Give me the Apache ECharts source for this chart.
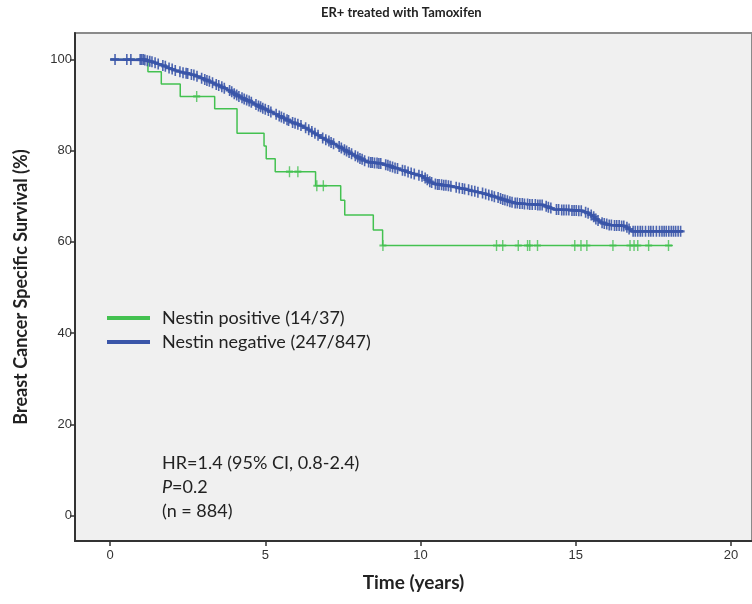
<!DOCTYPE html>
<html>
<head>
<meta charset="utf-8">
<script src="https://cdn.jsdelivr.net/npm/echarts@6/dist/echarts.min.js"></script>
<style>
  html, body { margin: 0; padding: 0; background: #fff; }
  #chart { width: 752px; height: 604px; }
</style>
</head>
<body>
<div id="chart"></div>
<script>
// Nestin positive: step times / survival (%)
var posTime = [0, 1.22, 1.65, 2.26, 3.37, 4.09, 4.96, 5.03, 5.32, 6.62, 7.43, 7.56, 8.48, 8.78, 18.13];
var posSurv = [100, 97.3, 94.6, 91.9, 89.2, 83.8, 81.0, 78.2, 75.4, 72.3, 69.1, 65.9, 62.6, 59.2, 59.2];
// censored cases (positive)
var posCensTime = [2.79, 5.78, 6.05, 6.66, 6.87, 8.79, 12.45, 12.65, 13.15, 13.45, 13.52, 13.77, 14.97, 15.17, 15.36, 16.2, 16.75, 16.88, 17.0, 17.35, 17.99];
var posCensSurv = [91.9, 75.4, 75.4, 72.3, 72.3, 59.2, 59.2, 59.2, 59.2, 59.2, 59.2, 59.2, 59.2, 59.2, 59.2, 59.2, 59.2, 59.2, 59.2, 59.2, 59.2];

// Nestin negative curve
var negTime = [0, 1.1, 1.3, 1.5, 1.83, 2.15, 2.58, 2.9, 3.33, 3.76, 4.19, 4.62, 5.05, 5.26, 5.8, 6.23, 6.76, 7.3, 7.84, 8.27, 8.8, 9.34, 9.88, 10.0, 10.41, 11.06, 11.49, 11.92, 12.45, 12.99, 13.42, 13.96, 14.29, 14.81, 15.24, 15.46, 15.78, 16.1, 16.59, 16.8, 18.46];
var negSurv = [100, 99.9, 99.6, 99.2, 98.3, 97.5, 96.8, 96.1, 94.8, 93.5, 91.8, 90.4, 88.9, 88.3, 86.4, 85.3, 83.1, 81.2, 79.1, 77.6, 77.1, 75.9, 74.7, 74.6, 72.8, 72.1, 71.5, 70.8, 69.8, 68.6, 68.3, 68.1, 67.1, 67.0, 66.8, 66.1, 64.4, 63.7, 63.5, 62.3, 62.3];
// censored cases (negative), read along the band
var negCensTime = [0.16, 0.54, 0.67, 0.97, 1.02, 1.07, 1.12,
  1.2, 1.28, 1.35, 1.45, 1.55, 1.7, 1.78, 1.9, 2.0, 2.1,
  2.25, 2.35, 2.45, 2.5, 2.62, 2.7, 2.8,
  2.95, 3.05, 3.12, 3.2, 3.3, 3.42, 3.5, 3.6, 3.68,
  3.85, 3.92, 4.0, 4.08, 4.15, 4.25, 4.32, 4.4, 4.48, 4.55,
  4.7, 4.78, 4.85, 4.92, 5.0, 5.1, 5.18,
  5.35, 5.45, 5.52, 5.6, 5.7, 5.75,
  5.88, 5.96, 6.05, 6.15,
  6.3, 6.4, 6.5, 6.6, 6.7,
  6.85, 6.95, 7.05, 7.12, 7.2,
  7.38, 7.45, 7.55, 7.62, 7.7, 7.78,
  7.9, 7.98, 8.05, 8.12, 8.2,
  8.33, 8.4, 8.45, 8.52, 8.6, 8.66, 8.72,
  8.88, 8.95, 9.02, 9.1, 9.18, 9.26,
  9.42, 9.5, 9.6, 9.7, 9.8,
  9.95, 10.05, 10.15, 10.22, 10.3, 10.36,
  10.48, 10.55, 10.6, 10.68, 10.75, 10.82, 10.9, 10.98,
  11.15, 11.25, 11.35, 11.42, 11.55, 11.65, 11.75, 11.85,
  12.0, 12.1, 12.2, 12.3, 12.38, 12.5, 12.58, 12.65, 12.72, 12.8, 12.88, 12.95,
  13.05, 13.12, 13.2, 13.28, 13.35, 13.45, 13.52, 13.6, 13.7, 13.78, 13.85, 13.92,
  14.05, 14.12, 14.2,
  14.38, 14.45, 14.55, 14.62, 14.7, 14.78, 14.88, 14.95, 15.02, 15.1, 15.18,
  15.32, 15.4, 15.5, 15.58, 15.65, 15.72,
  15.85, 15.92, 16.0, 16.08, 16.15, 16.25, 16.32, 16.4, 16.48, 16.55,
  16.65, 16.72,
  16.85, 16.92, 17.0, 17.08, 17.15, 17.25, 17.35, 17.42, 17.5, 17.6, 17.7, 17.78, 17.85, 17.92, 18.0, 18.08, 18.15, 18.22, 18.3, 18.38];
var negCensSurv = [100, 100, 100, 100, 100, 100, 99.9,
  99.7, 99.6, 99.5, 99.3, 99.0, 98.7, 98.5, 98.1, 97.9, 97.6,
  97.3, 97.1, 97.0, 96.9, 96.7, 96.6, 96.3,
  95.9, 95.6, 95.4, 95.2, 94.9, 94.5, 94.3, 94.0, 93.7,
  93.2, 92.9, 92.5, 92.2, 91.9, 91.6, 91.3, 91.1, 90.9, 90.6,
  90.1, 89.8, 89.6, 89.3, 89.1, 88.8, 88.5,
  88.0, 87.6, 87.4, 87.1, 86.8, 86.6,
  86.2, 86.0, 85.8, 85.5,
  85.0, 84.6, 84.2, 83.8, 83.4,
  82.8, 82.4, 82.1, 81.8, 81.5,
  80.9, 80.6, 80.2, 79.9, 79.6, 79.3,
  78.9, 78.6, 78.3, 78.1, 77.8,
  77.5, 77.4, 77.4, 77.3, 77.3, 77.2, 77.2,
  76.9, 76.8, 76.6, 76.4, 76.2, 76.1,
  75.7, 75.6, 75.3, 75.1, 74.9,
  74.6, 74.4, 74.0, 73.6, 73.2, 73.0,
  72.7, 72.6, 72.6, 72.5, 72.4, 72.4, 72.3, 72.2,
  72.0, 71.8, 71.7, 71.6, 71.4, 71.2, 71.1, 70.9,
  70.7, 70.5, 70.3, 70.1, 69.9, 69.7, 69.5, 69.3, 69.2, 69.0, 68.8, 68.7,
  68.5, 68.5, 68.4, 68.4, 68.3, 68.3, 68.2, 68.2, 68.2, 68.1, 68.1, 68.1,
  67.8, 67.6, 67.4,
  67.1, 67.1, 67.0, 67.0, 67.0, 67.0, 66.9, 66.9, 66.9, 66.8, 66.8,
  66.5, 66.3, 65.9, 65.5, 65.0, 64.7,
  64.2, 64.0, 63.9, 63.7, 63.7, 63.6, 63.6, 63.6, 63.5, 63.5,
  63.2, 62.8,
  62.3, 62.3, 62.3, 62.3, 62.3, 62.3, 62.3, 62.3, 62.3, 62.3, 62.3, 62.3, 62.3, 62.3, 62.3, 62.3, 62.3, 62.3, 62.3, 62.3];

var xTicks = [0, 5, 10, 15, 20];
var yTicks = [0, 20, 40, 60, 80, 100];

var greenCol = '#43c150';
var blueCol = '#3a55a8';
var plus = 'path://M4,0 H6 V4 H10 V6 H6 V10 H4 V6 H0 V4 H4 Z';
var font = 'Lato, "Open Sans", sans-serif';

function zip(a, b) {
  var out = [];
  for (var i = 0; i < a.length; i++) out.push([a[i], b[i]]);
  return out;
}

var myChart = echarts.init(document.getElementById('chart'));
var option = {
  animation: false,
  grid: {
    left: 75, right: 0, top: 33, bottom: 63,
    show: true, backgroundColor: '#f0f0f0', borderColor: '#8a8a8a', borderWidth: 2
  },
  legend: {
    orient: 'vertical', left: 107, top: 309, padding: 0,
    icon: 'rect', itemWidth: 43, itemHeight: 4, itemGap: 6,
    data: ['Nestin positive (14/37)', 'Nestin negative (247/847)'],
    textStyle: { fontFamily: font, fontSize: 18, lineHeight: 18, color: '#222', padding: [0, 0, 0, 7] }
  },
  xAxis: {
    type: 'value', min: -1.13, max: 20.68,
    name: 'Time (years)', nameLocation: 'middle', nameGap: 32,
    nameTextStyle: { fontFamily: font, fontWeight: 'bold', fontSize: 19, color: '#222' },
    splitLine: { show: false },
    axisLine: { show: true, onZero: false, lineStyle: { color: '#333', width: 2 } },
    axisTick: { show: true, length: 5, customValues: xTicks, lineStyle: { color: '#333', width: 1.5 } },
    axisLabel: { customValues: xTicks, margin: 8, fontFamily: 'Liberation Sans, Arial', fontSize: 13, color: '#333' }
  },
  yAxis: {
    type: 'value', min: -5.6, max: 105.8,
    name: 'Breast Cancer Specific Survival (%)', nameLocation: 'middle', nameGap: 45,
    nameTextStyle: { fontFamily: font, fontWeight: 'bold', fontSize: 18, color: '#222' },
    splitLine: { show: false },
    axisLine: { show: true, onZero: false, lineStyle: { color: '#333', width: 2 } },
    axisTick: { show: true, length: 5, customValues: yTicks, lineStyle: { color: '#333', width: 1.5 } },
    axisLabel: { customValues: yTicks, margin: 3, fontFamily: 'Liberation Sans, Arial', fontSize: 13, color: '#333' }
  },
  graphic: [
    { type: 'text', left: 401 - 80, top: 6,
      style: { text: 'ER+ treated with Tamoxifen', fontFamily: font, fontWeight: 'bold', fontSize: 13, fill: '#222' } },
    { type: 'text', left: 162, top: 454,
      style: { text: 'HR=1.4 (95% CI, 0.8-2.4)', fontFamily: font, fontSize: 18, fill: '#222' } },
    { type: 'text', left: 162, top: 478,
      style: { text: '{i|P}=0.2', fontFamily: font, fontSize: 18, fill: '#222',
        rich: { i: { fontFamily: font, fontSize: 18, fontStyle: 'italic', fill: '#222' } } } },
    { type: 'text', left: 162, top: 502,
      style: { text: '(n = 884)', fontFamily: font, fontSize: 18, fill: '#222' } }
  ],
  series: [
    { name: 'Nestin positive (14/37)', type: 'line', step: 'end', showSymbol: false,
      data: zip(posTime, posSurv), color: greenCol,
      lineStyle: { color: greenCol, width: 1.5 }, z: 2 },
    { name: 'posCensored', type: 'scatter', symbol: plus, symbolSize: [7, 11],
      data: zip(posCensTime, posCensSurv), itemStyle: { color: greenCol }, z: 3 },
    { name: 'Nestin negative (247/847)', type: 'line', showSymbol: false,
      data: zip(negTime, negSurv), color: blueCol,
      lineStyle: { color: blueCol, width: 2.5 }, z: 4 },
    { name: 'negCensored', type: 'scatter', symbol: plus, symbolSize: [8, 11],
      data: zip(negCensTime, negCensSurv), itemStyle: { color: blueCol, opacity: 0.9 }, z: 5 }
  ]
};
myChart.setOption(option, true);
</script>
</body>
</html>
